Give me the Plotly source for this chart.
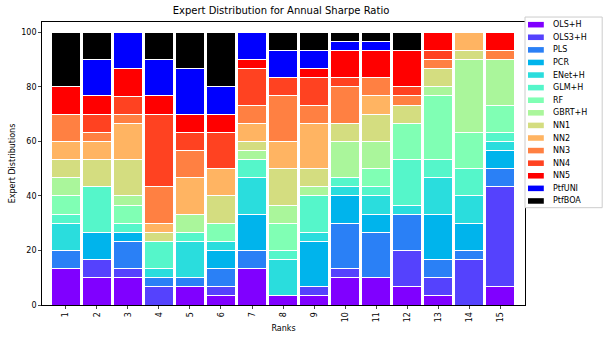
import plotly.graph_objects as go

ranks = [str(i) for i in range(1, 16)]

# Percent of experts at each rank (multiples of 1/30)
OLS_H   = [13.33, 10.0, 10.0, 0.0, 6.67, 3.33, 13.33, 3.33, 3.33, 10.0, 10.0, 6.67, 3.33, 0.0, 6.67]
OLS3_H  = [0.0, 6.67, 3.33, 6.67, 0.0, 3.33, 0.0, 0.0, 3.33, 3.33, 0.0, 13.33, 6.67, 16.67, 36.67]
PLS     = [6.67, 0.0, 10.0, 3.33, 3.33, 6.67, 6.67, 0.0, 0.0, 16.67, 16.67, 13.33, 6.67, 3.33, 6.67]
PCR     = [0.0, 10.0, 3.33, 0.0, 0.0, 6.67, 13.33, 0.0, 16.67, 10.0, 6.67, 0.0, 16.67, 10.0, 6.67]
ENET_H  = [10.0, 0.0, 0.0, 3.33, 13.33, 3.33, 13.33, 13.33, 3.33, 3.33, 6.67, 3.33, 13.33, 10.0, 3.33]
GLM_H   = [3.33, 16.67, 3.33, 10.0, 3.33, 0.0, 6.67, 3.33, 13.33, 3.33, 3.33, 16.67, 6.67, 10.0, 3.33]
RF      = [6.67, 0.0, 6.67, 0.0, 0.0, 6.67, 0.0, 10.0, 0.0, 0.0, 6.67, 13.33, 23.33, 13.33, 10.0]
GBRT_H  = [6.67, 0.0, 3.33, 0.0, 6.67, 0.0, 3.33, 6.67, 3.33, 13.33, 10.0, 0.0, 3.33, 26.67, 16.67]
NN1     = [6.67, 10.0, 13.33, 3.33, 0.0, 10.0, 3.33, 13.33, 6.67, 6.67, 10.0, 6.67, 6.67, 3.33, 0.0]
NN2     = [6.67, 6.67, 13.33, 3.33, 13.33, 10.0, 6.67, 10.0, 16.67, 0.0, 6.67, 0.0, 0.0, 6.67, 0.0]
NN3     = [10.0, 3.33, 3.33, 13.33, 10.0, 0.0, 6.67, 16.67, 6.67, 13.33, 6.67, 3.33, 3.33, 0.0, 3.33]
NN4     = [0.0, 6.67, 6.67, 26.67, 6.67, 13.33, 13.33, 6.67, 10.0, 3.33, 0.0, 3.33, 3.33, 0.0, 0.0]
NN5     = [10.0, 6.67, 10.0, 6.67, 6.67, 6.67, 3.33, 0.0, 3.33, 10.0, 10.0, 13.33, 6.67, 0.0, 6.67]
PTF_UNI = [0.0, 13.33, 13.33, 13.33, 16.67, 10.0, 10.0, 10.0, 6.67, 3.33, 3.33, 0.0, 0.0, 0.0, 0.0]
PTF_BOA = [20.0, 10.0, 0.0, 10.0, 13.33, 20.0, 0.0, 6.67, 6.67, 3.33, 3.33, 6.67, 0.0, 0.0, 0.0]

names = ["OLS+H", "OLS3+H", "PLS", "PCR", "ENet+H", "GLM+H", "RF", "GBRT+H",
         "NN1", "NN2", "NN3", "NN4", "NN5", "PtfUNI", "PtfBOA"]
series = [OLS_H, OLS3_H, PLS, PCR, ENET_H, GLM_H, RF, GBRT_H,
          NN1, NN2, NN3, NN4, NN5, PTF_UNI, PTF_BOA]
colors = ["#8000ff", "#5542fd", "#2a80f6", "#00b4ec", "#2adddd", "#55f6ca",
          "#80ffb4", "#aaf69b", "#d4dd80", "#ffb462", "#ff8042", "#ff4221",
          "#ff0000", "#0000ff", "#000000"]

W, H = 606, 344
L, R, T, B = 37, 81, 22, 37
pw, ph = W - L - R, H - T - B


def px_x(p):
    return (p - L) / pw


def px_y(p):
    return (H - B - p) / ph


x = list(range(1, 16))
fig = go.Figure()
for n, v, c in zip(names, series, colors):
    fig.add_trace(go.Bar(x=x, y=v, name=n, width=0.94,
                         marker=dict(color=c, line=dict(color="white", width=1))))

font = "DejaVu Sans"

# Manual legend (matplotlib-like, compact)
shapes = [dict(type="rect", xref="paper", yref="paper",
               x0=px_x(525), x1=px_x(603), y0=px_y(209), y1=px_y(17),
               line=dict(color="#cccccc", width=1), fillcolor="white", layer="above")]
annotations = []
for i, (n, c) in enumerate(zip(names, colors)):
    cy = 24.7 + 12.68 * i
    shapes.append(dict(type="rect", xref="paper", yref="paper",
                       x0=px_x(528), x1=px_x(544), y0=px_y(cy + 2.8), y1=px_y(cy - 2.8),
                       line=dict(width=0), fillcolor=c, layer="above"))
    annotations.append(dict(text=n, xref="paper", yref="paper",
                            x=px_x(551), y=px_y(cy), xanchor="left", yanchor="middle",
                            showarrow=False, font=dict(family=font, size=8, color="black")))

fig.update_layout(
    width=W, height=H,
    barmode="stack",
    plot_bgcolor="white", paper_bgcolor="white",
    margin=dict(l=L, r=R, t=T, b=B),
    font=dict(family=font, size=8, color="black"),
    title=dict(text="Expert Distribution for Annual Sharpe Ratio",
               x=(L + pw / 2) / W, xanchor="center", y=0.97, yanchor="middle",
               font=dict(family=font, size=10, color="black")),
    showlegend=False,
    shapes=shapes,
    annotations=annotations,
)
fig.update_xaxes(range=[0.23, 15.8], tickmode="array", tickvals=x, ticktext=ranks,
                 tickangle=-90, ticks="outside", ticklen=3, tickwidth=0.8,
                 showline=True, mirror=True, linecolor="black", linewidth=0.8,
                 showgrid=False, zeroline=False,
                 title=dict(text="Ranks", font=dict(family=font, size=8), standoff=4),
                 tickfont=dict(family=font, size=8))
fig.update_yaxes(range=[0, 103.8], tickvals=[0, 20, 40, 60, 80, 100],
                 ticks="outside", ticklen=3, tickwidth=0.8,
                 showline=True, mirror=True, linecolor="black", linewidth=0.8,
                 showgrid=False, zeroline=False,
                 title=dict(text="Expert Distributions", font=dict(family=font, size=8), standoff=4),
                 tickfont=dict(family=font, size=8))

fig.write_html("out.html")
